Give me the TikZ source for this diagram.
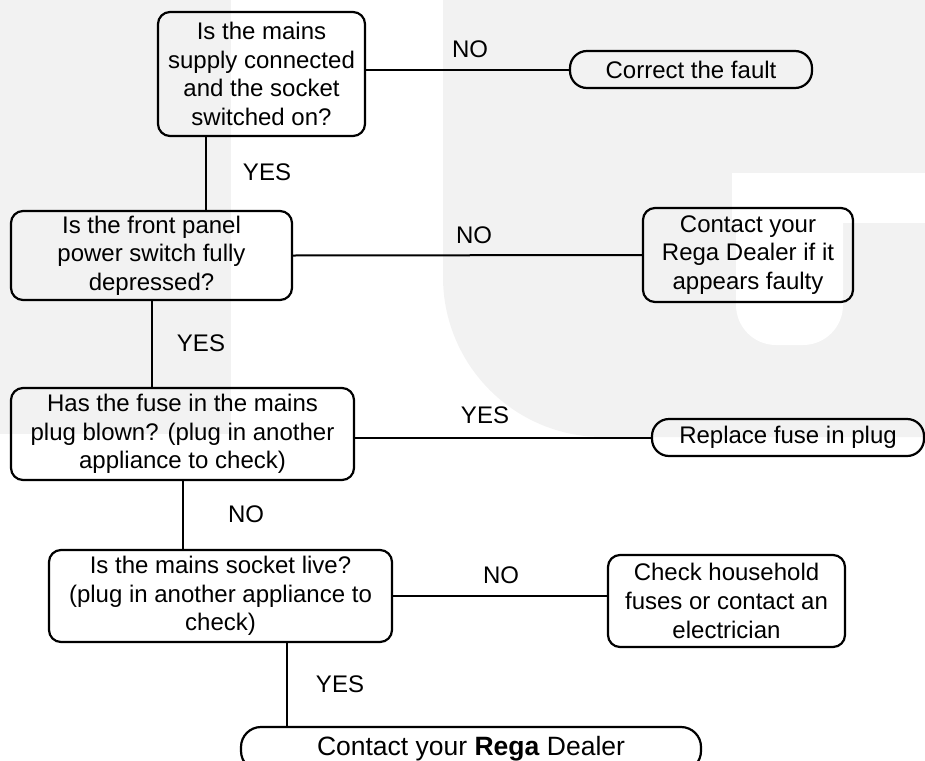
\documentclass[tikz,border=0pt]{standalone}
\usepackage{fontspec}
\setmainfont{Liberation Sans}
\usetikzlibrary{positioning}
\definecolor{wmGray}{gray}{0.95}
\tikzset{
    query/.style={draw, line width=2.2pt, rounded corners=12pt, align=center, inner sep=0pt},
    endcap/.style={draw, line width=2.2pt, rounded corners=17pt, align=center, inner sep=0pt, minimum height=37pt},
    link/.style={line width=2pt},
    tag/.style={inner sep=0pt}
}

\begin{document}
\begin{tikzpicture}[x=1pt,y=-1pt,font=\fontsize{24}{28.6}\selectfont]
\useasboundingbox (0,0) rectangle (925,760);
% faint logo behind the chart
\fill[wmGray] (0,0) rectangle (231,434);
\fill[wmGray] (443,0) -- (443,277) arc[start angle=180, end angle=90, radius=160] -- (925,437) -- (925,0) -- cycle;
\fill[white] (732,173) rectangle (925,223);
\fill[white, rounded corners=40pt] (736,173) -- (736,345) -- (843,345) -- (843,173) -- cycle;

\node[query, minimum width=207pt, minimum height=124pt] (qMains)  at (261.5,74)  {Is the mains\\supply connected\\and the socket\\switched on?};
\node[query, minimum width=281pt, minimum height=89pt]  (qSwitch) at (151.5,255.5) {Is the front panel\\power switch fully\\depressed?};
\node[query, minimum width=343pt, minimum height=92pt]  (qFuse)   at (182.5,434) {Has the fuse in the mains\\plug blown? (plug in another\\appliance to check)};
\node[query, minimum width=343pt, minimum height=92pt]  (qSocket) at (220.5,596) {Is the mains socket live?\\(plug in another appliance to\\check)};

\node[endcap, minimum width=242pt] (aFault) at (691,69.5) {Correct the fault};
\node[query, minimum width=210pt, minimum height=94pt] (aDealer) at (748,255) {Contact your\\Rega Dealer if it\\appears faulty};
\node[endcap, minimum width=272pt] (aFuse) at (788,437.5) {Replace fuse in plug};
\node[query, minimum width=237pt, minimum height=92pt] (aHouse) at (726.5,601) {Check household\\fuses or contact an\\electrician};
\node[endcap, minimum width=460pt, minimum height=44pt, rounded corners=20pt, font=\fontsize{26.5}{30}\selectfont] (aRega) at (471,749) {Contact your \textbf{Rega} Dealer};

\draw[link] (aFault.west -| qMains.east) -- (aFault.west);
\draw[link] (qSwitch.east) -- (aDealer.west);
\draw[link] (aFuse.west -| qFuse.east) -- (aFuse.west);
\draw[link] (qSocket.east) -- (qSocket.east -| aHouse.west);

\coordinate (kMains) at ([xshift=-55.5pt]qMains.south);
\coordinate (kSocket) at ([xshift=66.5pt]qSocket.south);
\draw[link] (kMains) -- (kMains |- qSwitch.north);
\draw[link] (qSwitch.south) -- (qSwitch.south |- qFuse.north);
\draw[link] (qFuse.south) -- (qFuse.south |- qSocket.north);
\draw[link] (kSocket) -- (kSocket |- aRega.north);

\node[tag] (tNoA)  at (470,49)  {NO};
\node[tag] (tNoB)  at (474,235) {NO};
\node[tag] (tYesC) at (485,415) {YES};
\node[tag] (tNoD)  at (501,575) {NO};
\node[tag] (tYesA) at (267,172) {YES};
\node[tag] (tYesB) at (201,343) {YES};
\node[tag] (tNoC)  at (246,514) {NO};
\node[tag] (tYesD) at (340,684) {YES};
\end{tikzpicture}
\end{document}
